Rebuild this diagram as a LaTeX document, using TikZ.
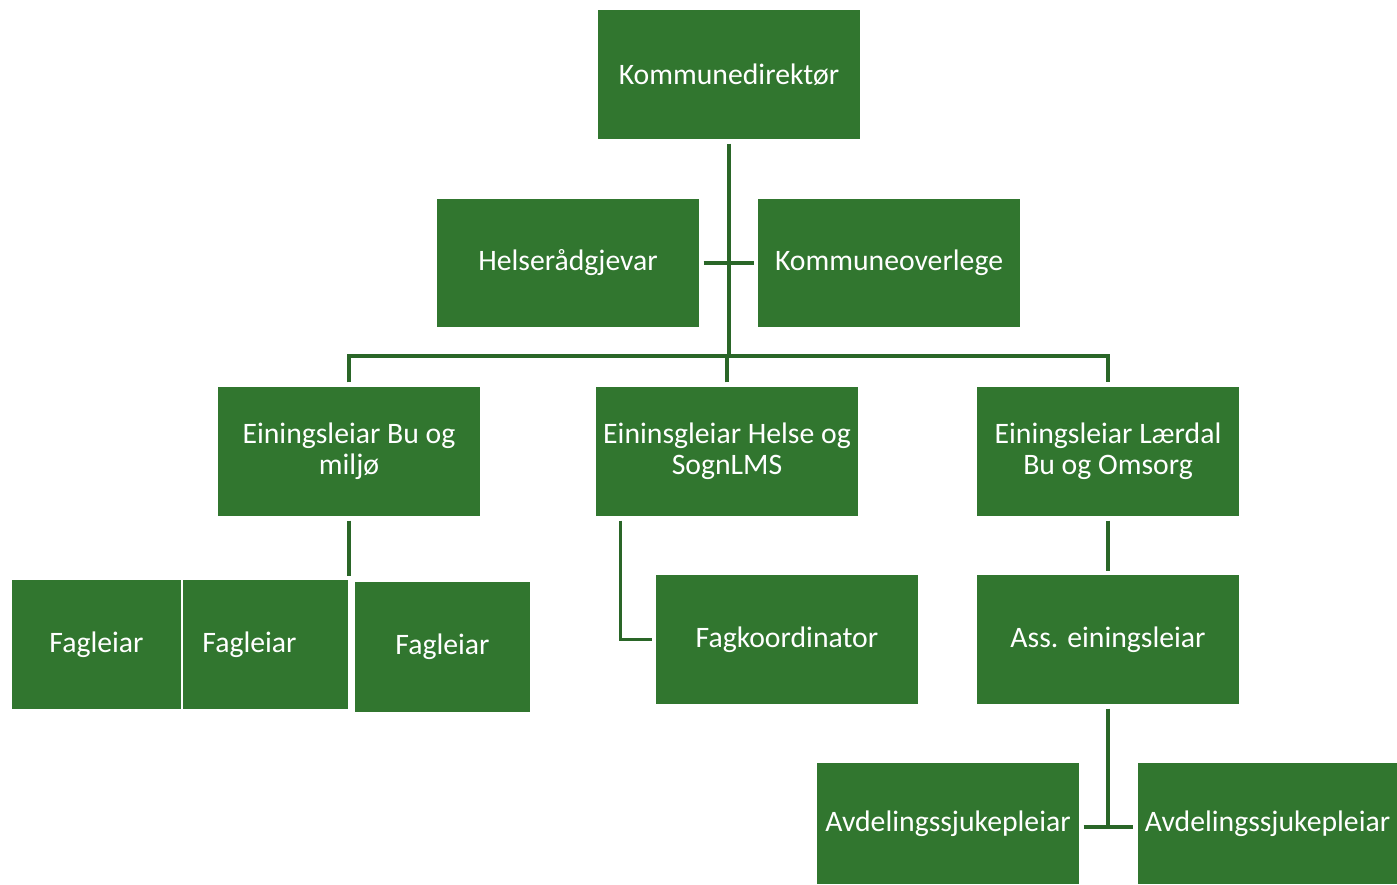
\documentclass[tikz,border=0pt]{standalone}
\usepackage{fontspec}
\setmainfont{Carlito}
\usetikzlibrary{calc,positioning}
\definecolor{boxgreen}{RGB}{49,118,47}
\definecolor{linegreen}{RGB}{42,102,40}
\begin{document}
\begin{tikzpicture}[x=0.01cm, y=-0.01cm]
\tikzstyle{box}=[rectangle, fill=boxgreen, draw=white, line width=0.3pt, text=white,
                 inner sep=0pt, minimum width=2.62cm, minimum height=1.29cm,
                 align=center, font=\fontsize{8.45}{8.8}\selectfont]
\tikzstyle{link}=[draw=linegreen, line width=0.9pt]
\useasboundingbox (0,0) rectangle (1397,885);
% top
\node[box] (kd) at (729,74.5) {Kommunedirektør};
\node[box] (hr) at (568,263) {Helserådgjevar};
\node[box] (ko) at (889,263) {Kommuneoverlege};
% units
\node[box] (ebm) at (349,451.5) {Einingsleiar Bu og\\miljø};
\node[box] (ehs) at (727,451.5) {Eininsgleiar Helse og\\SognLMS};
\node[box] (elbo) at (1108,451.5) {Einingsleiar Lærdal\\Bu og Omsorg};
% lower level
\node[box, minimum width=1.69cm] (fl1) at (96.5,644.5) {Fagleiar};
\node[box, minimum width=1.65cm] (fl2) at (265.5,644.5) {\hspace*{-0.32cm}Fagleiar};
\node[box, minimum width=1.75cm, minimum height=1.30cm] (fl3) at (442.5,647) {Fagleiar};
\node[box] (fk) at (787,639.5) {Fagkoordinator};
\node[box] (ae) at (1108,639.5) {Ass. einingsleiar};
\node[box, minimum height=1.21cm] (as1) at (948,823.5) {Avdelingssjukepleiar};
\node[box, minimum width=2.59cm, minimum height=1.21cm] (as2) at (1267.5,823.5) {Avdelingssjukepleiar};
\coordinate (j1) at (729,356);
\draw[link] ([yshift=-0.04cm]kd.south) -- (j1);
\draw[link, shorten <=0.04cm, shorten >=0.03cm] (hr.east) -- (ko.west);
\draw[link] ([yshift=0.04cm]ebm.north) |- (j1) -| ([yshift=0.04cm]elbo.north);
\draw[link] ([yshift=0.04cm]ehs.north) -- (ehs.north |- j1);
\draw[link] ([yshift=-0.04cm]ebm.south) -- ([yshift=0.03cm]ebm.south |- fl2.north);
\draw[link] ([xshift=0.25cm,yshift=-0.04cm]ehs.south west) |- ([xshift=-0.03cm]fk.west);
\draw[link] ([yshift=-0.04cm]elbo.south) -- ([yshift=0.03cm]ae.north);
\draw[link] ([yshift=-0.04cm]ae.south) -- (ae.south |- 1108,827);
\draw[link, shorten <=0.04cm, shorten >=0.04cm] (as1.east |- 0,827) -- (as2.west |- 0,827);
\end{tikzpicture}
\end{document}
